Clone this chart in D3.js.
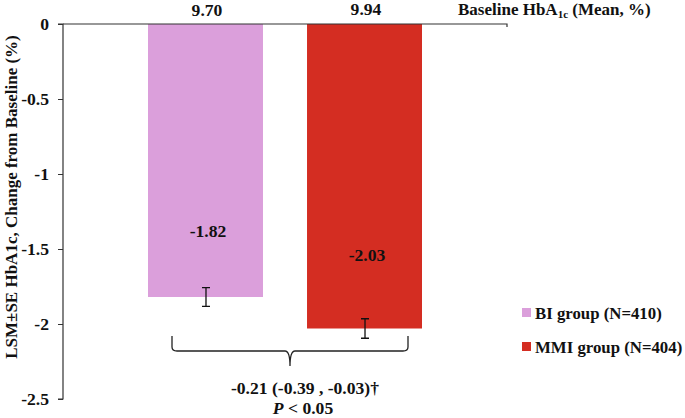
<!DOCTYPE html>
<html><head><meta charset="utf-8">
<script src="https://cdn.jsdelivr.net/npm/d3@7"></script>
<style>body{margin:0;background:#fff}text{font-family:"Liberation Serif","Times New Roman",serif;font-weight:bold;fill:#111}</style>
</head><body><svg id="c" width="685" height="418"></svg>
<script>
const groups = ["BI group (N=410)", "MMI group (N=404)"];
const changes = [-1.82, -2.03];
const errors = [0.063, 0.065];
const baselines = ["9.70", "9.94"];
const barColors = ["#DB9FDB", "#D42D22"];
const yTicks = [0, -0.5, -1, -1.5, -2, -2.5];
const diffText = "-0.21 (-0.39 , -0.03)†";

const FS = 17.6;
const svg = d3.select("#c");
const y = d3.scaleLinear().domain([0, -2.5]).range([24, 399]);
const x = d3.scaleBand().domain(groups).range([148, 422]).paddingInner(0.277).paddingOuter(0);

// y axis
const yAxis = d3.axisLeft(y).tickValues(yTicks).tickSize(5).tickFormat(d => d === 0 ? "0" : String(d));
const ga = svg.append("g").attr("transform", "translate(63,0)").call(yAxis);
ga.select(".domain").attr("stroke", "#333").attr("stroke-width", 1.2).attr("d", "M-5,24H0V399H-5");
ga.selectAll(".tick line").attr("stroke", "#333");
ga.selectAll(".tick text").attr("font-size", FS).attr("font-family", "Liberation Serif").attr("font-weight", "bold").attr("fill", "#111").attr("dx", -6);

// bars
svg.selectAll("rect.bar").data(groups).join("rect").attr("class", "bar")
  .attr("x", d => x(d)).attr("width", x.bandwidth())
  .attr("y", y(0)).attr("height", (d, i) => y(changes[i]) - y(0))
  .attr("fill", (d, i) => barColors[i]);

// zero line on top
svg.append("path").attr("d", `M63,${y(0)}H507V${y(0)+3}`).attr("stroke", "#333").attr("stroke-width", 1.2).attr("fill", "none");

// error bars
groups.forEach((g, i) => {
  const cx = x(g) + x.bandwidth() / 2 + 0.5;
  const y1 = y(changes[i] + errors[i]), y2 = y(changes[i] - errors[i]);
  svg.append("path").attr("d", `M${cx},${y1}V${y2}M${cx-4},${y1}H${cx+4}M${cx-4},${y2}H${cx+4}`)
    .attr("stroke", "#111").attr("stroke-width", 1.3).attr("fill", "none");
  // value label
  svg.append("text").attr("x", cx + 2).attr("y", y(changes[i] * 0.775) + 1).attr("text-anchor", "middle")
    .attr("font-size", FS).text(changes[i].toFixed(2));
  // baseline label
  svg.append("text").attr("x", cx + 1).attr("y", 16 - i).attr("text-anchor", "middle")
    .attr("font-size", FS).text(baselines[i]);
});

// Baseline title
const bt = svg.append("text").attr("x", 458).attr("y", 15).attr("font-size", 17);
bt.append("tspan").text("Baseline HbA");
bt.append("tspan").attr("font-size", 11).attr("dy", 3).text("1c");
bt.append("tspan").attr("dy", -3).text(" (Mean, %)");

// bracket
const bl = x(groups[0]) + 24, br = x(groups[1]) + x.bandwidth() - 14;
const bm = (bl + br) / 2, by = y(-2.18);
svg.append("path").attr("d",
  `M${bl},${by-15}V${by-4}Q${bl},${by} ${bl+5},${by}H${bm-5}Q${bm},${by} ${bm},${by+15}Q${bm},${by} ${bm+5},${by}H${br-5}Q${br},${by} ${br},${by-4}V${by-15}`)
  .attr("stroke", "#222").attr("stroke-width", 1.3).attr("fill", "none");

svg.append("text").attr("x", bm + 15).attr("y", 394).attr("text-anchor", "middle").attr("font-size", FS).text(diffText);
const pt = svg.append("text").attr("x", bm + 13).attr("y", 414).attr("text-anchor", "middle").attr("font-size", FS);
pt.append("tspan").attr("font-style", "italic").text("P");
pt.append("tspan").text(" < 0.05");

// legend
groups.forEach((g, i) => {
  const ly = 313 + i * 34;
  svg.append("rect").attr("x", 522).attr("y", ly - 5).attr("width", 9).attr("height", 9).attr("fill", barColors[i]);
  svg.append("text").attr("x", 535).attr("y", ly + 6).attr("font-size", 16.8).text(g);
});

// y title
svg.append("text").attr("transform", "translate(17,197) rotate(-90)").attr("text-anchor", "middle")
  .attr("font-size", 17).text("LSM\u00B1SE  HbA1c, Change from Baseline (%)");
</script></body></html>
